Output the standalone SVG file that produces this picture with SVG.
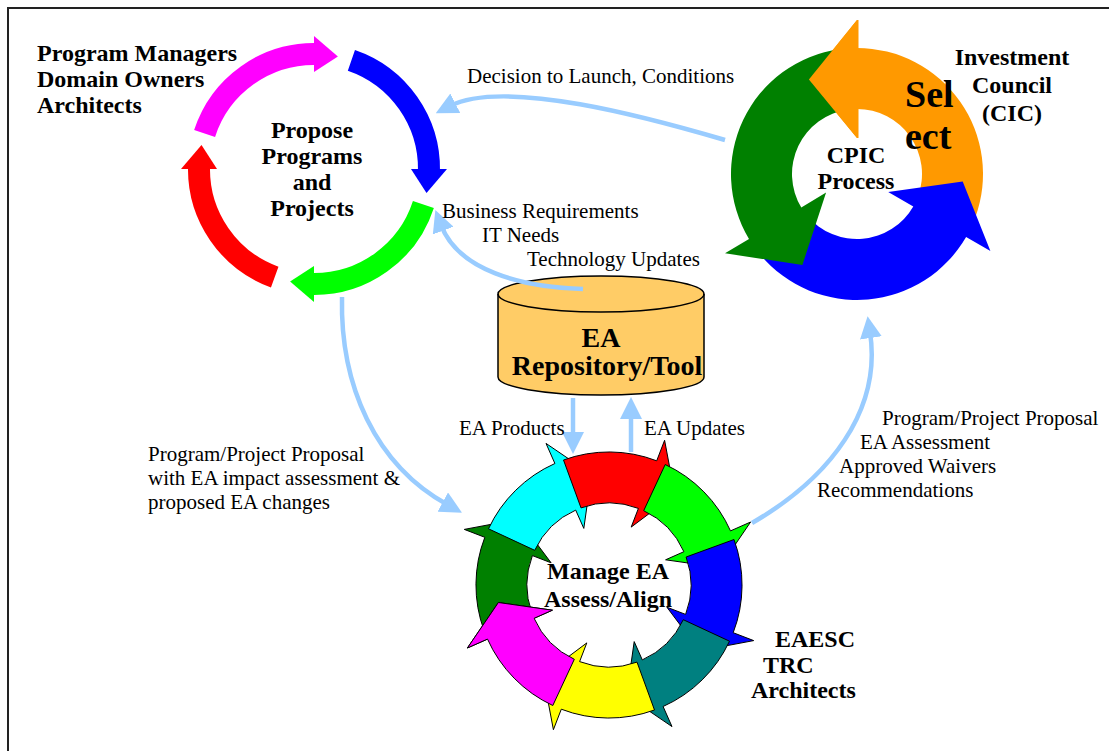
<svg xmlns="http://www.w3.org/2000/svg" width="1109" height="751" viewBox="0 0 1109 751">
<defs>
<style>
.b{font-family:"Liberation Serif","Times New Roman",serif;font-weight:bold;font-size:24px;fill:#000}
.r{font-family:"Liberation Serif","Times New Roman",serif;font-size:21px;fill:#000}
.m{text-anchor:middle}
.arc{fill:none;stroke-width:22}
.seg{stroke:#000;stroke-width:1;stroke-linejoin:miter}
.conn{fill:none;stroke:#99CCFF;stroke-width:4.5;marker-end:url(#ah)}
</style>
<marker id="ah" viewBox="0 0 22 22" markerWidth="22" markerHeight="22" refX="6" refY="11" orient="auto" markerUnits="userSpaceOnUse"><path d="M0,0 L22,11 L0,22 Z" fill="#99CCFF"/></marker>
</defs>
<rect width="1109" height="751" fill="#fff"/>
<rect x="8" y="8" width="1120" height="770" fill="none" stroke="#222" stroke-width="2"/>

<g id="propose-cycle">
<path class="arc" stroke="#FF00FF" d="M204.6,133.5 A115,115 0 0 1 316,54"/>
<polygon fill="#FF00FF" points="314,36 337.9,56.5 314,72"/>
<path class="arc" stroke="#0000FF" d="M351.4,60.3 A115,115 0 0 1 429,171"/>
<polygon fill="#0000FF" points="447,169 426.5,192.9 411,169"/>
<path class="arc" stroke="#00FF00" d="M423.4,204.5 A115,115 0 0 1 312,284"/>
<polygon fill="#00FF00" points="314,302 290.1,281.5 314,266"/>
<path class="arc" stroke="#FF0000" d="M274.7,277.1 A115,115 0 0 1 199,167"/>
<polygon fill="#FF0000" points="181,169 201.5,145.1 217,169"/>
<text class="b m" x="312" y="138">Propose</text>
<text class="b m" x="312" y="164">Programs</text>
<text class="b m" x="312" y="190">and</text>
<text class="b m" x="312" y="216">Projects</text>
</g>

<g id="label-program-managers">
<text class="b" x="37" y="61">Program Managers</text>
<text class="b" x="37" y="87">Domain Owners</text>
<text class="b" x="37" y="113">Architects</text>
</g>

<g id="cpic-cycle">
<path fill="#FF9900" d="M975.4,217.1 A126,126 0 0,0 857,48 L857,20 L808.9,79.6 L857,138 L857,109 A65,65 0 0,1 918.1,196.2 Z"/>
<path fill="#0000FF" d="M760.5,255 A126,126 0 0,0 966.1,237 L990.4,251 L962.7,181.4 L888.2,192 L913.3,206.5 A65,65 0 0,1 807.2,215.8 Z"/>
<path fill="#008000" d="M839.5,49.2 A126,126 0 0,0 749,238.9 L725,253.3 L802.4,264.9 L826.1,192.5 L801.3,207.5 A65,65 0 0,1 848,109.6 Z"/>
<path fill="#FF9900" d="M857,20 L808.9,79.6 L857,138 L858.5,138 L858.5,20 Z"/>
<text class="b" x="905" y="107" style="font-size:38px">Sel</text>
<text class="b" x="905" y="149" style="font-size:38px">ect</text>
<text class="b m" x="856" y="163">CPIC</text>
<text class="b m" x="856" y="189">Process</text>
</g>

<g id="label-investment-council">
<text class="b m" x="1012" y="65">Investment</text>
<text class="b m" x="1012" y="93">Council</text>
<text class="b m" x="1012" y="121">(CIC)</text>
</g>

<g id="ea-repository">
<path fill="#FFCC66" stroke="#000" stroke-width="1.5" d="M498,294 L498,377 A103,18 0 0,0 704,377 L704,294 A103,18 0 0,0 498,294 Z"/>
<path fill="none" stroke="#000" stroke-width="1.5" d="M498,294 A103,18 0 0,0 704,294"/>
<text class="b m" x="601" y="347" style="font-size:28px">EA</text>
<text class="b m" x="607" y="375" style="font-size:28px">Repository/Tool</text>
</g>

<g id="manage-ea-cycle">
<path class="seg" fill="#008000" d="M484.0,630.5 A133,133 0 0,1 484.8,537.3 L464.3,529.4 L518.4,519.2 L551.1,562.8 L532.4,555.6 A82,82 0 0,0 531.9,613.0 Z"/>
<path class="seg" fill="#00FFFF" d="M488.5,528.8 A133,133 0 0,1 554.9,463.5 L546.0,443.4 L591.5,474.4 L583.8,528.4 L575.7,510.1 A82,82 0 0,0 534.7,550.3 Z"/>
<path class="seg" fill="#FF0000" d="M563.5,460.0 A133,133 0 0,1 656.7,460.8 L664.6,440.3 L674.8,494.4 L631.2,527.1 L638.4,508.4 A82,82 0 0,0 581.0,507.9 Z"/>
<path class="seg" fill="#00FF00" d="M665.2,464.5 A133,133 0 0,1 730.5,530.9 L750.6,522.0 L719.6,567.5 L665.6,559.8 L683.9,551.7 A82,82 0 0,0 643.7,510.7 Z"/>
<path class="seg" fill="#0000FF" d="M734.0,539.5 A133,133 0 0,1 733.2,632.7 L753.7,640.6 L699.6,650.8 L666.9,607.2 L685.6,614.4 A82,82 0 0,0 686.1,557.0 Z"/>
<path class="seg" fill="#008080" d="M729.5,641.2 A133,133 0 0,1 663.1,706.5 L672.0,726.6 L626.5,695.6 L634.2,641.6 L642.3,659.9 A82,82 0 0,0 683.3,619.7 Z"/>
<path class="seg" fill="#FFFF00" d="M654.5,710.0 A133,133 0 0,1 561.3,709.2 L553.4,729.7 L543.2,675.6 L586.8,642.9 L579.6,661.6 A82,82 0 0,0 637.0,662.1 Z"/>
<path class="seg" fill="#FF00FF" d="M552.8,705.5 A133,133 0 0,1 487.5,639.1 L467.4,648.0 L498.4,602.5 L552.4,610.2 L534.1,618.3 A82,82 0 0,0 574.3,659.3 Z"/>
<path fill="#FF00FF" d="M487.5,639.1 L467.4,648.0 L498.4,602.5 L552.4,610.2 L534.1,618.3 Z"/>
<path fill="none" stroke="#000" stroke-width="1" d="M487.5,639.1 L467.4,648.0 L498.4,602.5 L552.4,610.2 L534.1,618.3"/>
<text class="b m" x="608" y="579">Manage EA</text>
<text class="b m" x="608" y="607">Assess/Align</text>
</g>

<g id="label-eaesc">
<text class="b" x="775" y="647">EAESC</text>
<text class="b" x="763" y="673">TRC</text>
<text class="b" x="751" y="698">Architects</text>
</g>

<g id="connectors">
<path class="conn" d="M725,140 C 650,118 505,78 450,106"/>
<path class="conn" d="M583,289 C 520,287 458,270 441,225"/>
<path class="conn" d="M342,297 C 340,385 375,465 448,505"/>
<path class="conn" d="M752,523 C 830,478 882,410 870,332"/>
<path class="conn" d="M573,398 L573,438"/>
<path class="conn" d="M631,452 L631,413"/>
<text class="r" x="467" y="83">Decision to Launch, Conditions</text>
<text class="r" x="442" y="218">Business Requirements</text>
<text class="r" x="482" y="242">IT Needs</text>
<text class="r" x="527" y="266">Technology Updates</text>
<text class="r" x="459" y="435">EA Products</text>
<text class="r" x="644" y="435">EA Updates</text>
<text class="r" x="148" y="461">Program/Project Proposal</text>
<text class="r" x="148" y="485">with EA impact assessment &amp;</text>
<text class="r" x="148" y="509">proposed EA changes</text>
<text class="r" x="882" y="425">Program/Project Proposal</text>
<text class="r" x="860" y="449">EA Assessment</text>
<text class="r" x="839" y="473">Approved Waivers</text>
<text class="r" x="817" y="497">Recommendations</text>
</g>
</svg>
